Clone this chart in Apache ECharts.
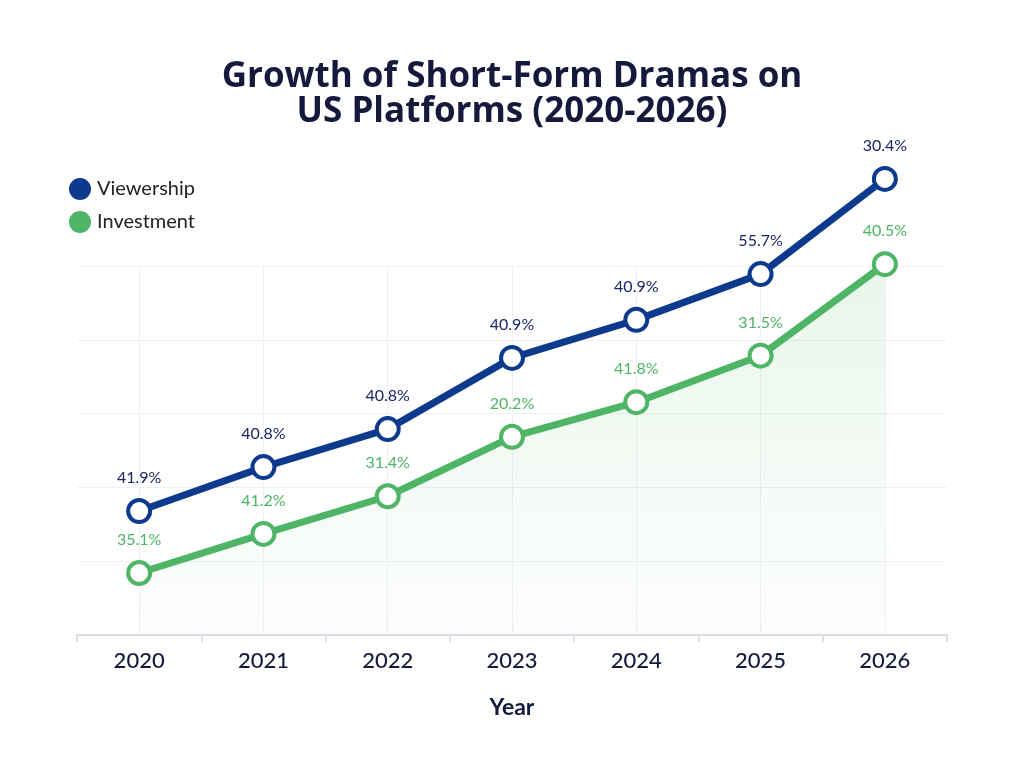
<!DOCTYPE html>
<html>
<head>
<meta charset="utf-8">
<script src="https://cdn.jsdelivr.net/npm/echarts@6/dist/echarts.min.js"></script>
<style>
  html, body { margin: 0; padding: 0; background: #fff; }
  #chart { width: 1024px; height: 768px; }
</style>
</head>
<body>
<div id="chart"></div>
<script>
  // categories and series
  var years = ['2020', '2021', '2022', '2023', '2024', '2025', '2026'];
  var viewership = [33.6, 45.5, 55.8, 75.1, 85.4, 97.8, 123.6];
  var investment = [16.8, 27.4, 37.6, 53.7, 63.1, 75.7, 100.5];
  // label texts as printed on the chart
  var viewershipLabels = ['41.9%', '40.8%', '40.8%', '40.9%', '40.9%', '55.7%', '30.4%'];
  var investmentLabels = ['35.1%', '41.2%', '31.4%', '20.2%', '41.8%', '31.5%', '40.5%'];

  var blue = '#0E3A8E';
  var green = '#4DB565';
  var font = 'Lato';

  var chart = echarts.init(document.getElementById('chart'));

  var option = {
    backgroundColor: '#fff',
    animation: false,
    textStyle: { fontFamily: font },
    title: {
      text: 'Growth of Short-Form Dramas on\nUS Platforms (2020-2026)',
      left: 'center',
      top: 55,
      textStyle: {
        fontFamily: 'Open Sans',
        fontSize: 35,
        fontWeight: 'bold',
        color: '#151a3c',
        lineHeight: 35
      }
    },
    legend: {
      orient: 'vertical',
      left: 64,
      top: 173,
      itemWidth: 20,
      itemHeight: 20,
      itemGap: 11,
      icon: 'circle',
      textStyle: { fontFamily: font, fontSize: 20, color: '#222', padding: [0, 0, 0, 2] },
      data: [
        { name: 'Viewership', itemStyle: { color: blue } },
        { name: 'Investment', itemStyle: { color: green } }
      ]
    },
    grid: { left: 77, right: 77, top: 266, bottom: 133 },
    xAxis: {
      type: 'category',
      data: years,
      boundaryGap: true,
      name: 'Year',
      nameLocation: 'middle',
      nameGap: 61,
      nameTextStyle: { fontFamily: font, fontSize: 23, fontWeight: 'bold', color: '#151a3c' },
      axisLine: { lineStyle: { color: '#d9dde4', width: 2 } },
      axisTick: { show: true, length: 7, lineStyle: { color: '#d9dde4', width: 2 } },
      axisLabel: { fontFamily: font, fontSize: 22, color: '#151a3c', margin: 15, fontWeight: 500 },
      splitLine: { show: true, alignWithLabel: true, lineStyle: { color: '#eef0f3', width: 1 } }
    },
    yAxis: {
      type: 'value',
      min: 0,
      max: 100,
      interval: 20,
      axisLine: { show: false },
      axisTick: { show: false },
      axisLabel: { show: false },
      splitLine: { lineStyle: { color: '#eef0f3', width: 1 } }
    },
    series: [
      {
        name: 'Investment',
        type: 'line',
        data: investment,
        clip: false,
        symbol: 'circle',
        symbolSize: 22,
        itemStyle: { color: '#fff', borderColor: green, borderWidth: 4 },
        lineStyle: { color: green, width: 7 },
        areaStyle: {
          color: new echarts.graphic.LinearGradient(0, 0, 0, 1, [
            { offset: 0, color: 'rgba(77,181,101,0.18)' },
            { offset: 1, color: 'rgba(77,181,101,0.02)' }
          ])
        },
        label: {
          show: true,
          position: 'top',
          distance: 12,
          fontFamily: font,
          fontSize: 16,
          color: green,
          formatter: function (p) { return investmentLabels[p.dataIndex]; }
        },
        z: 2
      },
      {
        name: 'Viewership',
        type: 'line',
        data: viewership,
        clip: false,
        symbol: 'circle',
        symbolSize: 22,
        itemStyle: { color: '#fff', borderColor: blue, borderWidth: 4 },
        lineStyle: { color: blue, width: 7 },
        label: {
          show: true,
          position: 'top',
          distance: 12,
          fontFamily: font,
          fontSize: 16,
          color: '#1b2566',
          formatter: function (p) { return viewershipLabels[p.dataIndex]; }
        },
        z: 3
      }
    ]
  };

  chart.setOption(option);
</script>
</body>
</html>
